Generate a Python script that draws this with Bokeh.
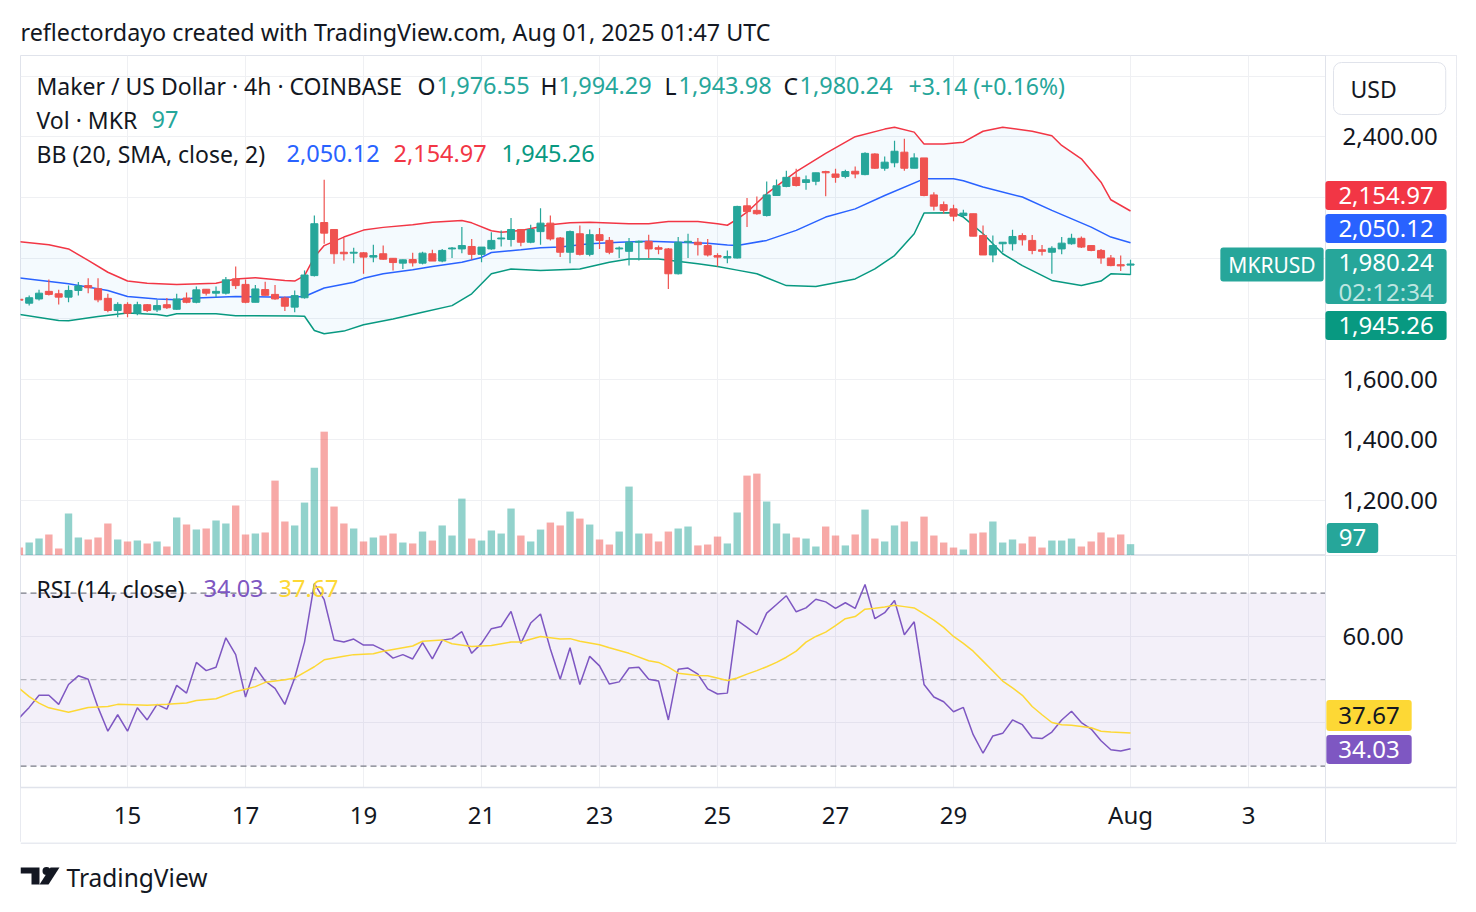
import numpy as np
import pandas as pd
from bokeh.plotting import figure
from bokeh.layouts import column
from bokeh.models import (Range1d, FixedTicker, Label, ColumnDataSource, Span,
                          BoxAnnotation, NumeralTickFormatter)
from bokeh.embed import file_html
from bokeh.resources import INLINE

# ---------------- data ----------------
candle_start = "2025-07-13 04:00"
opens = [1864, 1851, 1865, 1890, 1882, 1871, 1893, 1909, 1899, 1867,
         1827, 1847, 1818, 1846, 1829, 1846, 1831, 1868, 1854, 1897,
         1884, 1884, 1931, 1913, 1854, 1896, 1880, 1868, 1838, 1869,
         1942, 2117, 2094, 2019, 2016, 2017, 2003, 2014, 1999, 1983,
         1995, 1983, 2014, 1990, 2030, 2030, 2038, 2012, 2030, 2063,
         2061, 2094, 2052, 2087, 2115, 2066, 2019, 2080, 2012, 2077,
         2058, 2030, 2022, 2052, 2055, 2034, 2030, 1948, 2052, 2052,
         2041, 2008, 2000, 2000, 2172, 2157, 2140, 2206, 2236, 2266,
         2249, 2253, 2285, 2277, 2269, 2286, 2275, 2343, 2296, 2314,
         2349, 2296, 2330, 2208, 2176, 2162, 2140, 2146, 2074, 2010,
         2047, 2047, 2074, 2058, 2027, 2019, 2030, 2047, 2065, 2041,
         2025, 2000, 1978, 1976.55]
highs = [1866, 1876, 1895, 1929, 1895, 1909, 1921, 1933, 1933, 1882,
         1854, 1854, 1856, 1848, 1862, 1868, 1882, 1886, 1906, 1898,
         1906, 1937, 1972, 1929, 1911, 1922, 1911, 1873, 1893, 1959,
         2140, 2258, 2096, 2066, 2034, 2020, 2044, 2041, 2000, 1995,
         2017, 2021, 2027, 2030, 2036, 2102, 2063, 2036, 2085, 2091,
         2132, 2096, 2110, 2164, 2140, 2069, 2091, 2107, 2094, 2099,
         2069, 2038, 2066, 2058, 2077, 2041, 2033, 2069, 2080, 2066,
         2063, 2016, 2025, 2172, 2198, 2203, 2252, 2259, 2288, 2294,
         2272, 2281, 2288, 2294, 2291, 2302, 2349, 2345, 2335, 2387,
         2393, 2345, 2330, 2217, 2186, 2176, 2159, 2146, 2107, 2074,
         2052, 2093, 2082, 2076, 2043, 2039, 2069, 2080, 2071, 2041,
         2030, 2010, 2008, 1994.29]
lows = [1858, 1843, 1860, 1876, 1847, 1854, 1876, 1884, 1854, 1821,
        1805, 1805, 1811, 1822, 1822, 1832, 1829, 1851, 1851, 1876,
        1871, 1880, 1898, 1851, 1854, 1876, 1862, 1825, 1821, 1866,
        1939, 2047, 1981, 1992, 1983, 1948, 1986, 1994, 1959, 1964,
        1972, 1979, 1990, 1986, 2000, 2016, 1994, 1986, 2027, 2038,
        2038, 2039, 2049, 2044, 2058, 2003, 1983, 2008, 2006, 2030,
        2012, 2000, 1975, 1992, 2000, 2012, 1898, 1946, 2000, 2008,
        2005, 1972, 1983, 1998, 2102, 2143, 2137, 2206, 2233, 2236,
        2225, 2240, 2204, 2248, 2263, 2263, 2273, 2294, 2288, 2299,
        2288, 2296, 2204, 2157, 2146, 2121, 2135, 2072, 2010, 1986,
        2019, 2025, 2041, 2012, 2008, 1948, 2012, 2044, 2033, 2022,
        1981, 1973, 1957, 1943.98]
closes = [1861, 1869, 1884, 1880, 1871, 1893, 1908, 1902, 1862, 1827,
          1847, 1818, 1846, 1827, 1843, 1836, 1865, 1854, 1895, 1884,
          1890, 1928, 1909, 1854, 1898, 1877, 1865, 1841, 1876, 1944,
          2113, 2082, 2014, 2014, 2019, 2003, 2008, 1996, 1985, 1994,
          1984, 2016, 1990, 2025, 2033, 2041, 2012, 2036, 2058, 2066,
          2094, 2052, 2094, 2115, 2063, 2019, 2087, 2012, 2077, 2058,
          2019, 2033, 2052, 2055, 2030, 2029, 1948, 2052, 2055, 2044,
          2010, 2003, 2005, 2170, 2153, 2146, 2208, 2238, 2266, 2239,
          2258, 2281, 2281, 2266, 2285, 2277, 2345, 2296, 2316, 2352,
          2296, 2330, 2206, 2171, 2157, 2138, 2148, 2072, 2010, 2041,
          2052, 2071, 2060, 2025, 2022, 2032, 2049, 2065, 2036, 2025,
          2000, 1975, 1974, 1980.24]
volumes = [68, 111, 145, 180, 60, 359, 154, 137, 154, 274,
           137, 120, 128, 103, 120, 77, 325, 265, 222, 231,
           299, 274, 428, 180, 188, 197, 641, 291, 257, 453,
           752, 1060, 419, 274, 231, 120, 154, 171, 188, 111,
           103, 205, 128, 257, 171, 487, 145, 128, 214, 188,
           402, 171, 120, 222, 282, 257, 376, 316, 265, 137,
           94, 205, 590, 188, 188, 120, 205, 231, 248, 86,
           94, 162, 103, 368, 684, 701, 462, 274, 188, 154,
           145, 77, 248, 171, 86, 180, 393, 145, 120, 257,
           291, 120, 333, 171, 111, 68, 51, 188, 197, 291,
           111, 137, 103, 162, 68, 128, 128, 145, 77, 120,
           197, 154, 180, 97]

bb_upper_idx = [0, 3, 5, 7, 9, 11, 13, 16, 20, 22, 24, 27, 28, 29, 30, 31, 33, 35, 37, 40,
                42, 45, 46, 48, 49, 51, 54, 56, 58, 62, 64, 66, 69, 71, 72, 73, 74, 76, 79, 82,
                85, 88, 89, 91, 92, 94, 96, 98, 100, 103, 105, 106, 108, 110, 111, 113]
bb_upper = [2054, 2044, 2030, 1992, 1953, 1924, 1917, 1913, 1917, 1931, 1935, 1926, 1924, 1942, 2003, 2041, 2069, 2092, 2101, 2110,
            2118, 2124, 2116, 2090, 2085, 2091, 2110, 2116, 2118, 2113, 2113, 2120, 2120, 2113, 2108, 2128, 2151, 2212, 2285, 2345,
            2400, 2425, 2431, 2415, 2376, 2376, 2382, 2418, 2431, 2418, 2403, 2371, 2327, 2250, 2192, 2154.97]
bb_basis_idx = [0, 5, 9, 11, 14, 16, 18, 22, 27, 29, 31, 34, 35, 37, 40, 42, 45, 47, 48, 51,
                53, 55, 58, 61, 64, 67, 70, 72, 73, 76, 79, 82, 85, 88, 92, 95, 96, 98, 102, 105,
                109, 111, 113]
bb_basis = [1934, 1915, 1893, 1873, 1865, 1862, 1868, 1873, 1871, 1873, 1901, 1920, 1933, 1948, 1961, 1972, 1986, 2002, 2018, 2027,
            2034, 2036, 2047, 2052, 2055, 2052, 2049, 2043, 2041, 2058, 2091, 2135, 2162, 2206, 2261, 2261, 2255, 2234, 2201, 2157,
            2102, 2069, 2050.12]
bb_lower_idx = [0, 4, 5, 8, 11, 14, 15, 16, 20, 22, 28, 29, 30, 31, 33, 35, 38, 41, 44, 46,
                48, 50, 53, 57, 60, 62, 65, 69, 71, 73, 75, 78, 81, 85, 87, 89, 91, 92, 95, 96,
                98, 100, 102, 105, 108, 110, 111, 113]
bb_lower = [1814, 1794, 1793, 1807, 1819, 1814, 1809, 1816, 1816, 1810, 1809, 1808, 1761, 1750, 1759, 1780, 1799, 1821, 1843, 1882,
            1948, 1964, 1959, 1964, 1986, 1997, 1997, 1981, 1972, 1960, 1948, 1909, 1906, 1931, 1964, 2008, 2080, 2148, 2149, 2135,
            2080, 2014, 1975, 1926, 1909, 1924, 1948, 1945.26]

rsi_values = [41.2, 43.6, 46.4, 46.4, 44.3, 48.9, 50.9, 50.1, 43.6, 38.1,
              41.9, 38.1, 43.5, 40.7, 44.3, 43.2, 48.7, 46.9, 54.0, 52.1,
              52.9, 59.7, 55.8, 46.0, 52.9, 49.7, 48.0, 44.3, 50.4, 58.7,
              72.2, 68.5, 59.2, 58.7, 59.4, 58.0, 58.0, 56.9, 55.0, 55.8,
              54.8, 58.6, 54.8, 59.1, 59.5, 61.1, 56.1, 58.4, 61.8, 62.3,
              65.8, 58.4, 63.1, 65.2, 57.1, 50.1, 57.4, 48.9, 55.4, 53.2,
              49.0, 49.5, 52.7, 52.9, 50.1, 49.7, 40.7, 52.4, 52.7, 51.3,
              47.9, 46.7, 46.9, 63.7, 62.1, 60.4, 65.4, 67.4, 69.4, 65.7,
              66.6, 68.6, 68.0, 66.5, 67.8, 66.5, 72.0, 64.1, 65.5, 68.3,
              60.4, 63.4, 48.9, 46.0, 44.9, 42.6, 43.6, 37.3, 33.0, 37.0,
              37.6, 40.7, 39.6, 36.6, 36.4, 37.9, 40.7, 42.7, 40.1, 38.6,
              35.9, 33.8, 33.5, 34.03]
rsi_ma_idx = [0, 1, 2, 3, 5, 7, 9, 10, 13, 15, 17, 18, 20, 22, 23, 24, 25, 27, 28, 29,
              30, 31, 33, 34, 36, 37, 39, 40, 41, 43, 44, 46, 48, 50, 51, 53, 55, 56, 57, 59,
              60, 62, 64, 65, 66, 67, 69, 70, 72, 73, 74, 75, 76, 77, 78, 79, 80, 81, 82, 83,
              84, 85, 86, 87, 88, 89, 90, 91, 92, 93, 94, 95, 96, 97, 98, 99, 100, 101, 102, 103,
              104, 105, 106, 107, 108, 109, 110, 111, 112, 113]
rsi_ma = [48.0, 46.1, 44.6, 43.5, 42.5, 43.6, 43.8, 44.3, 44.1, 44.3, 44.6, 45.2, 45.6, 47.3, 47.8, 48.4, 49.4, 50.0, 50.4, 51.7,
          53.0, 54.6, 55.4, 55.8, 56.0, 56.6, 57.4, 57.8, 58.9, 59.2, 58.3, 57.7, 57.9, 58.7, 58.7, 60.0, 59.4, 59.5, 58.9, 58.1,
          57.4, 56.1, 54.4, 54.0, 52.9, 51.5, 51.0, 50.9, 49.8, 50.4, 51.3, 52.1, 53.0, 54.0, 55.2, 56.6, 58.7, 60.0, 61.0, 62.5,
          64.1, 64.6, 66.3, 66.5, 66.8, 67.2, 66.9, 66.6, 65.2, 63.8, 62.1, 60.0, 58.4, 56.6, 54.3, 52.0, 49.7, 48.1, 46.4, 43.8,
          41.9, 40.1, 39.6, 39.5, 39.2, 38.9, 38.1, 37.9, 37.8, 37.67]
rsi_levels = [70, 50, 30]
rsi_level_alpha = [1.0, 0.5, 1.0]

x_ticks = [15, 17, 19, 21, 23, 25, 27, 29, 32, 34]
x_tick_labels = ["15", "17", "19", "21", "23", "25", "27", "29", "Aug", "3"]
price_label_ticks = [1200, 1400, 1600, 2400]
price_grid_ticks = [1200, 1400, 1600, 1800, 2000, 2200, 2400, 2600]
rsi_label_ticks = [60]
rsi_grid_ticks = [40, 60]

# ---------------- styling / geometry ----------------
FONT = "Noto Sans"
TXT = "#131722"
UP = "#26A69A"
DOWN = "#EF5350"
GRID = "#EFF0F3"
BORDER = "#E0E3EB"
FS_TXT = "23px"
FS_NUM = "24px"
FS_VAL = "23.5px"

n = len(closes)
times = pd.date_range(candle_start, periods=n, freq="4h")
xs = ((times - pd.Timestamp("2025-06-30")) / pd.Timedelta(days=1)).to_numpy()

PX_PER_DAY = 59.0
X0 = 13.186                        # data x at frame left (px 20)
X1 = X0 + 1436 / PX_PER_DAY        # data x at frame right (px 1456)
P_BOT, P_TOP = 1019.1, 2667.7      # price at main frame bottom / top (px 555 / 55)
RSI_PX = 232.0 / (78.72 - 25.08)   # px per rsi unit
R_TOP = 78.72                      # rsi at px 555
R_BOT = R_TOP - 287 / RSI_PX       # rsi at px 842 (frame includes time scale strip)


def px2x(px):
    return X0 + (px - 20) / PX_PER_DAY


def py2p(py):
    return P_TOP - (py - 55) / 500.0 * (P_TOP - P_BOT)


def py2r(py):
    return R_TOP - (py - 555) / RSI_PX


XSEP = px2x(1325)   # price-scale separator
YSEP = py2r(787)    # time-scale separator


def text_label(fig, x, y, text, color=TXT, size=FS_TXT, align="left"):
    fig.add_layout(Label(x=x, y=y, text=text, text_color=color, text_font=FONT,
                         text_font_size=size, text_align=align, text_baseline="middle"))


def tag(fig, x, y, text, bg, fg="#FFFFFF", pad=(13, 13, 6, 6), size=FS_NUM, align="center",
        border=None, radius=3):
    fig.add_layout(Label(x=x, y=y, text=text, text_color=fg, text_font=FONT,
                         text_font_size=size, text_align=align, text_baseline="middle",
                         background_fill_color=bg, background_fill_alpha=1.0,
                         border_line_color=border, border_radius=radius,
                         padding=dict(left=pad[0], right=pad[1], top=pad[2], bottom=pad[3])))


def style_axis(ax, standoff):
    ax.axis_line_color = None
    ax.major_tick_line_color = None
    ax.minor_tick_line_color = None
    ax.major_tick_out = 0
    ax.major_tick_in = 0
    ax.major_label_text_font = FONT
    ax.major_label_text_font_size = FS_NUM
    ax.major_label_text_color = TXT
    ax.major_label_standoff = standoff


xr = Range1d(X0, X1)

# ---------------- header ----------------
hdr = figure(width=1476, height=55, x_range=Range1d(20, 1456), y_range=Range1d(55, 0),
             toolbar_location=None, output_backend="svg",
             min_border_left=20, min_border_right=20, min_border_top=0, min_border_bottom=0,
             x_axis_location=None, y_axis_location=None, outline_line_color=None)
hdr.xgrid.visible = False
hdr.ygrid.visible = False
hdr.add_layout(Label(x=20, y=31, text="reflectordayo created with TradingView.com, Aug 01, 2025 01:47 UTC",
                     text_color=TXT, text_font=FONT, text_font_size="23.3px", text_baseline="middle"))

# ---------------- main pane ----------------
p = figure(width=1476, height=500, x_range=xr, y_range=Range1d(P_BOT, P_TOP),
           x_axis_location=None, y_axis_location="right",
           min_border_left=20, min_border_right=20, min_border_top=0, min_border_bottom=0,
           toolbar_location=None, output_backend="svg", outline_line_color=BORDER)
p.extra_y_ranges = {"vol": Range1d(0, 4280)}
p.xgrid.ticker = FixedTicker(ticks=x_ticks)
p.ygrid.ticker = FixedTicker(ticks=price_grid_ticks)
p.grid.grid_line_color = GRID
p.yaxis.ticker = FixedTicker(ticks=price_label_ticks)
p.yaxis.formatter = NumeralTickFormatter(format="0,0.00")
for ax in p.yaxis:
    style_axis(ax, -114)
# keep the price-scale column clean of grid lines
p.add_layout(BoxAnnotation(left=XSEP, fill_color="#FFFFFF", fill_alpha=1.0, line_color=None,
                           level="underlay"))
p.add_layout(Span(location=XSEP, dimension="height", line_color=BORDER, line_width=1))

up = [c >= o for o, c in zip(opens, closes)]
col = [UP if u else DOWN for u in up]
src = ColumnDataSource(dict(x=xs, o=opens, h=highs, l=lows, c=closes, v=volumes, col=col,
                            top=np.maximum(opens, closes), bot=np.minimum(opens, closes)))

p.vbar(x="x", top="v", bottom=0, width=0.125, source=src, y_range_name="vol",
       fill_color="col", line_color=None, fill_alpha=0.5)

bu_x = [xs[i] for i in bb_upper_idx]
bl_x = [xs[i] for i in bb_lower_idx]
bm_x = [xs[i] for i in bb_basis_idx]
p.patch(bu_x + bl_x[::-1], bb_upper + bb_lower[::-1], fill_color="#2196F3", fill_alpha=0.05,
        line_color=None)
p.line(bu_x, bb_upper, line_color="#F23645", line_width=1.5)
p.line(bm_x, bb_basis, line_color="#2962FF", line_width=1.5)
p.line(bl_x, bb_lower, line_color="#089981", line_width=1.5)

p.segment(x0="x", y0="h", x1="x", y1="l", source=src, line_color="col", line_width=1.2)
p.vbar(x="x", top="top", bottom="bot", width=0.12, source=src, fill_color="col", line_color="col")

# legend texts
L1, L2, L3 = 85, 119, 153
text_label(p, px2x(36), py2p(L1), "Maker / US Dollar · 4h · COINBASE")
for lx, letter, vx, val in [(417, "O", 436, "1,976.55"), (540, "H", 558, "1,994.29"),
                            (664, "L", 678, "1,943.98"), (783, "C", 799, "1,980.24")]:
    text_label(p, px2x(lx), py2p(L1), letter)
    text_label(p, px2x(vx), py2p(L1), val, color=UP, size=FS_VAL)
text_label(p, px2x(908), py2p(L1), "+3.14 (+0.16%)", color=UP)
text_label(p, px2x(36), py2p(L2), "Vol · MKR")
text_label(p, px2x(151), py2p(L2), "97", color=UP, size=FS_VAL)
text_label(p, px2x(36), py2p(L3), "BB (20, SMA, close, 2)")
text_label(p, px2x(286), py2p(L3), "2,050.12", color="#2962FF", size=FS_VAL)
text_label(p, px2x(393), py2p(L3), "2,154.97", color="#F23645", size=FS_VAL)
text_label(p, px2x(501), py2p(L3), "1,945.26", color="#089981", size=FS_VAL)

# right side tags (label box incl. padding is centred on its anchor)
TX = px2x(1385.5)
tag(p, px2x(1333), py2p(88), "USD", "#FFFFFF", fg=TXT, pad=(17, 49, 10, 10), size=FS_TXT,
    align="left", border=BORDER, radius=8)
tag(p, TX, py2p(195), "2,154.97", "#F23645")
tag(p, TX, py2p(228), "2,050.12", "#2962FF")
tag(p, TX, py2p(276), "1,980.24", UP, pad=(13, 13, 5, 33))
text_label(p, TX, py2p(291), "02:12:34", color="#BDE5E0", size=FS_NUM, align="center")
tag(p, TX, py2p(325), "1,945.26", "#089981")
tag(p, px2x(1271.5), py2p(264), "MKRUSD", UP, pad=(8, 8, 3, 3), size="21px")
tag(p, px2x(1352), py2p(537.5), "97", UP, pad=(12, 12, 6, 7))

# ---------------- RSI pane (+ time scale strip) ----------------
r = figure(width=1476, height=287, x_range=xr, y_range=Range1d(R_BOT, R_TOP),
           y_axis_location="right",
           min_border_left=20, min_border_right=20, min_border_top=0, min_border_bottom=0,
           toolbar_location=None, output_backend="svg", outline_line_color=BORDER)
r.xgrid.ticker = FixedTicker(ticks=x_ticks)
r.ygrid.ticker = FixedTicker(ticks=rsi_grid_ticks)
r.grid.grid_line_color = GRID
r.yaxis.ticker = FixedTicker(ticks=rsi_label_ticks)
r.yaxis.formatter = NumeralTickFormatter(format="0.00")
r.xaxis.ticker = FixedTicker(ticks=x_ticks)
r.xaxis.major_label_overrides = {t: s for t, s in zip(x_ticks, x_tick_labels)}
for ax in r.yaxis:
    style_axis(ax, -114)
for ax in r.xaxis:
    style_axis(ax, -45)

r.add_layout(BoxAnnotation(left=X0, right=XSEP, bottom=30, top=70, fill_color="#7E57C2",
                           fill_alpha=0.09, line_color=None, level="underlay"))
r.add_layout(BoxAnnotation(left=XSEP, fill_color="#FFFFFF", fill_alpha=1.0, line_color=None,
                           level="underlay"))
r.add_layout(BoxAnnotation(top=YSEP, fill_color="#FFFFFF", fill_alpha=1.0, line_color=None,
                           level="underlay"))
r.add_layout(Span(location=XSEP, dimension="height", line_color=BORDER, line_width=1))
r.add_layout(Span(location=YSEP, dimension="width", line_color=BORDER, line_width=1.5))
r.segment(x0=[X0] * len(rsi_levels), y0=rsi_levels, x1=[XSEP] * len(rsi_levels), y1=rsi_levels,
          line_color="#787B86", line_alpha=rsi_level_alpha, line_dash="6 4", line_width=1.2)

r.line(xs, rsi_values, line_color="#7E57C2", line_width=1.5)
r.line([xs[i] for i in rsi_ma_idx], rsi_ma, line_color="#FDD835", line_width=1.5)

text_label(r, px2x(36), py2r(588), "RSI (14, close)")
text_label(r, px2x(203), py2r(588), "34.03", color="#7E57C2", size=FS_VAL)
text_label(r, px2x(278), py2r(588), "37.67", color="#FDD835", size=FS_VAL)
tag(r, px2x(1368.5), py2r(715), "37.67", "#FDD835", fg=TXT, pad=(12, 12, 7, 7))
tag(r, px2x(1368.5), py2r(749), "34.03", "#7E57C2", pad=(12, 12, 6, 6))

# ---------------- footer ----------------
ftr = figure(width=1476, height=70, x_range=Range1d(20, 1456), y_range=Range1d(70, 0),
             toolbar_location=None, output_backend="svg",
             min_border_left=20, min_border_right=20, min_border_top=0, min_border_bottom=0,
             x_axis_location=None, y_axis_location=None, outline_line_color=None)
ftr.xgrid.visible = False
ftr.ygrid.visible = False
ftr.segment(x0=[20], y0=[0.5], x1=[1456], y1=[0.5], line_color=BORDER, line_width=1.5)
# TradingView logo mark
ftr.patch([20, 39, 39, 31, 31, 20], [25, 25, 42, 42, 31, 31], fill_color=TXT, line_color=None)
ftr.scatter([46], [28.5], size=8, fill_color=TXT, line_color=None)
ftr.patch([50, 59, 48, 39], [25, 25, 42, 42], fill_color=TXT, line_color=None)
ftr.add_layout(Label(x=66, y=35, text="TradingView", text_color=TXT, text_font=FONT,
                     text_font_size="24.5px", text_baseline="middle"))

layout = column(hdr, p, r, ftr, spacing=0)
open("out.html", "w").write(file_html(layout, INLINE))
